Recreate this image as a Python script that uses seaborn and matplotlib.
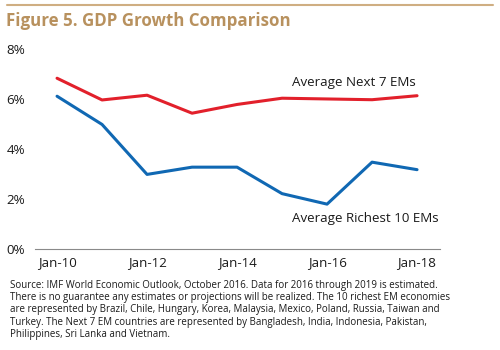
import pandas as pd
import numpy as np
import matplotlib.pyplot as plt
import seaborn as sns

# dados (crescimento do PIB, %)
years = [2010, 2011, 2012, 2013, 2014, 2015, 2016, 2017, 2018]
next7 = [6.83, 5.96, 6.15, 5.43, 5.78, 6.03, 6.00, 5.97, 6.13]
richest10 = [6.11, 4.98, 2.98, 3.27, 3.27, 2.21, 1.79, 3.47, 3.17]
tick_years = [2010, 2012, 2014, 2016, 2018]
tick_labels = ["Jan-10", "Jan-12", "Jan-14", "Jan-16", "Jan-18"]
series_names = ["Average Next 7 EMs", "Average Richest 10 EMs"]

title = "Figure 5. GDP Growth Comparison"
footnote = ("Source: IMF World Economic Outlook, October 2016. Data for 2016 through 2019 is estimated.\n"
            "There is no guarantee any estimates or projections will be realized. The 10 richest EM economies\n"
            "are represented by Brazil, Chile, Hungary, Korea, Malaysia, Mexico, Poland, Russia, Taiwan and\n"
            "Turkey. The Next 7 EM countries are represented by Bangladesh, India, Indonesia, Pakistan,\n"
            "Philippines, Sri Lanka and Vietnam.")

df = pd.DataFrame({
    "ano": years * 2,
    "pib": next7 + richest10,
    "serie": [series_names[0]] * len(years) + [series_names[1]] * len(years),
})

sns.set_theme(style="white")
plt.rcParams['font.family'] = ['Open Sans', 'DejaVu Sans']

fig = plt.figure(figsize=(5, 3.5), dpi=100)
ax = fig.add_axes([0.07, 0.289, 0.81, 0.571])

sns.lineplot(data=df, x="ano", y="pib", hue="serie",
             palette={series_names[0]: "#e2202b", series_names[1]: "#1068b3"},
             linewidth=2.2, legend=False, ax=ax)

ax.set_xlim(2009.51, 2018.51)
ax.set_ylim(0, 8)
ax.set_xticks(tick_years)
ax.set_xticklabels(tick_labels)
ax.set_yticks([0, 2, 4, 6, 8])
ax.set_yticklabels([f"{v}%" for v in [0, 2, 4, 6, 8]])
ax.tick_params(axis="both", length=0, labelsize=9.6, colors="#1a1a1a")
ax.tick_params(axis="y", pad=7)
ax.tick_params(axis="x", pad=5)
ax.set_xlabel("")
ax.set_ylabel("")
for s in ["top", "right", "left"]:
    ax.spines[s].set_visible(False)
ax.spines["bottom"].set_color("#8a8a8a")
ax.spines["bottom"].set_linewidth(0.8)

ax.text(2015.23, 6.67, series_names[0], fontsize=9.6, color="#1a1a1a", va="center")
ax.text(2015.23, 1.22, series_names[1], fontsize=9.6, color="#1a1a1a", va="center")

# linha dourada e título
fig.add_artist(plt.Line2D([0.014, 0.986], [0.987, 0.987], color="#cfae82", linewidth=1.5))
fig.text(0.012, 0.94, title, fontsize=12.2, fontweight="bold", color="#b8915e", va="center")

fig.text(0.02, 0.2, footnote, fontsize=7.0, color="#1a1a1a", va="top", linespacing=1.15)

fig.savefig("out.png", dpi=100)
